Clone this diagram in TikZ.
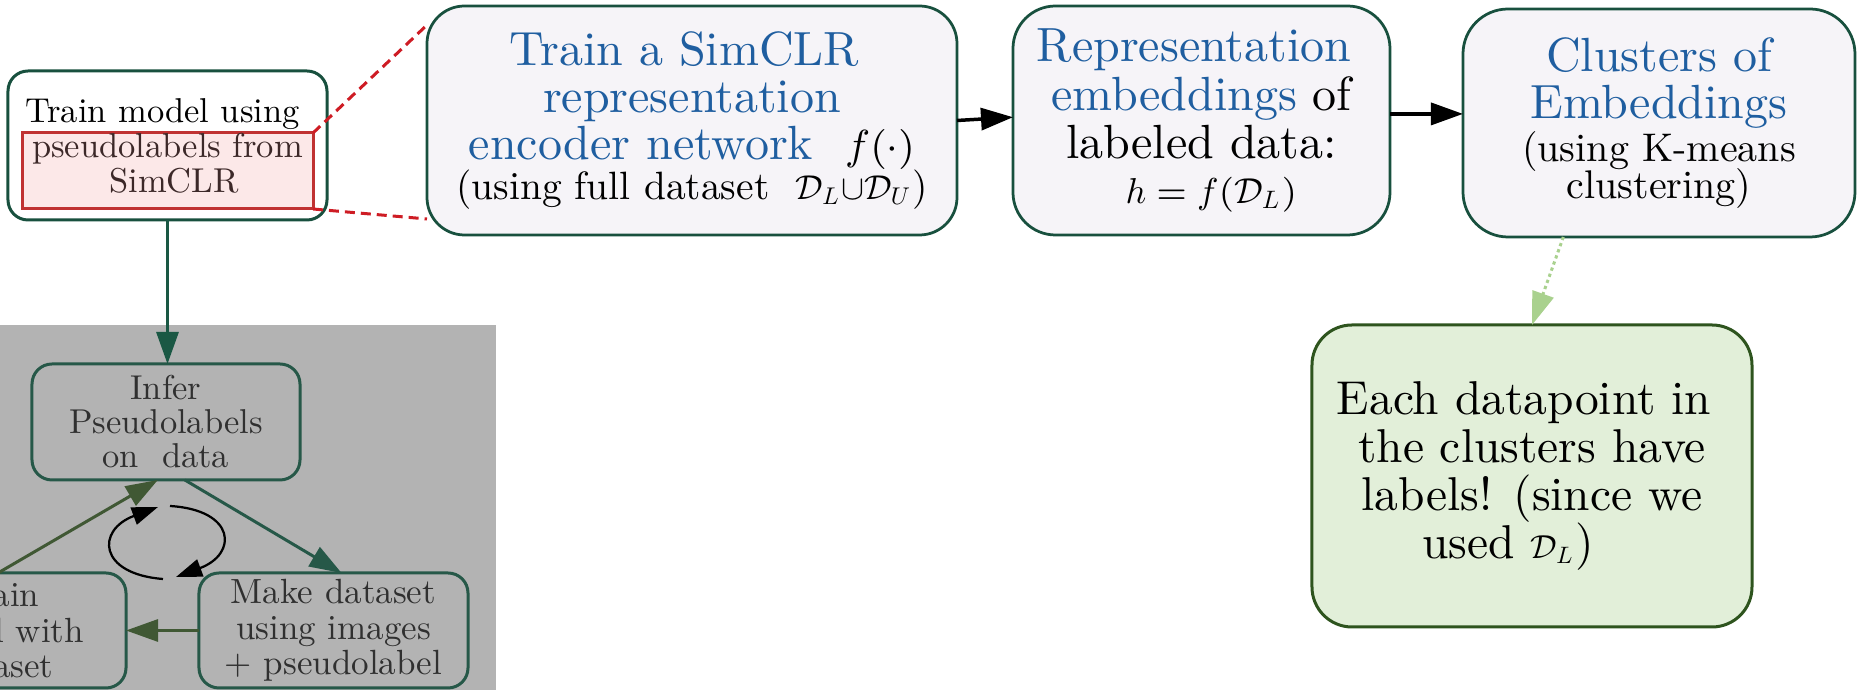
\documentclass[tikz,border=0pt]{standalone}
\usepackage{amsmath,amssymb}
\usepackage{fontspec}
% one design size of Latin Modern for every text size
\setmainfont{lmroman10-regular.otf}
\DeclareFontShape{OML}{cmm}{m}{it}{<->cmmi10}{}
\DeclareFontShape{OMS}{cmsy}{m}{n}{<->cmsy10}{}
\usetikzlibrary{arrows.meta,calc}

\definecolor{boxline}{RGB}{24,80,62}
\definecolor{boxfill}{RGB}{246,244,248}
\definecolor{titleblue}{RGB}{31,94,160}
\definecolor{panelgray}{RGB}{179,179,179}
\definecolor{panelline}{RGB}{38,88,72}
\definecolor{paneltext}{RGB}{48,48,48}
\definecolor{olive}{RGB}{64,88,52}
\definecolor{notefill}{RGB}{226,239,217}
\definecolor{noteline}{RGB}{46,84,30}
\definecolor{dotgreen}{RGB}{169,209,142}
\definecolor{zoomred}{RGB}{206,28,36}
\definecolor{hlline}{RGB}{192,50,50}
\definecolor{hlfill}{RGB}{252,232,232}
\definecolor{hltext}{RGB}{60,40,40}

% font size and baseline skip, with the baseline skip always honoured
\newcommand\setfs[2]{\fontsize{#1}{#2}\selectfont\lineskiplimit=-20pt\relax}

\tikzset{
  every node/.style={inner sep=0pt, outer sep=0pt, align=center},
  flowbox/.style={draw=boxline, fill=boxfill, line width=0.55pt, rectangle},
  panelbox/.style={draw=panelline, line width=0.6pt, rounded corners=4pt,
    text=paneltext, font={\setfs{7}{7.05}}},
  arrowhd/.style={-{Triangle[length=6.4pt,width=4.4pt]}},
  smallhd/.style={-{Triangle[length=5.2pt,width=3.6pt]}},
}

\begin{document}
\begin{tikzpicture}[x=0.2pt,y=-0.2pt]
\path[use as bounding box] (0,0) rectangle (1858,690);
\clip (0,0) rectangle (1858,690);

% grey panel with the pseudolabel loop
\fill[panelgray] (0,325) rectangle (496,690);

% highlighted part of the first box
\node[draw=hlline, fill=hlfill, line width=0.6pt,
      minimum width=58pt, minimum height=15.2pt] (hl) at (168,171) {};
\node[draw=boxline, line width=0.6pt, rounded corners=4pt,
      minimum width=63.8pt, minimum height=29.8pt, font={\setfs{6.9}{7}}]
  (trainm) at (167.5,145.5)
  {Train model using\hspace*{2pt}\\
   \textcolor{hltext}{pseudolabels from}\\
   \hspace*{2.6pt}\textcolor{hltext}{SimCLR}};

% main pipeline
\node[flowbox, rounded corners=7.5pt, minimum width=106pt, minimum height=45.8pt,
      font={\setfs{9.6}{9.4}}] (simclr) at (692,120.5)
  {\textcolor{titleblue}{Train a SimCLR}\hspace*{3pt}\\
   \textcolor{titleblue}{representation}\hspace*{3pt}\\
   \textcolor{titleblue}{encoder network}\ \ {\setfs{8.4}{8}$f(\cdot)$}\hspace*{5.2pt}\\[-1.4pt]
   {\setfs{7.9}{8}(using full dataset\ \ {\setfs{6.9}{8}$\mathcal{D}_L{\cup}\mathcal{D}_U$})}};

\node[flowbox, rounded corners=8.5pt, minimum width=75.4pt, minimum height=45.8pt,
      font={\setfs{9.6}{9.7}}] (rep) at (1201.5,120.5)
  {\textcolor{titleblue}{Representation}\hspace*{3pt}\\
   \textcolor{titleblue}{embeddings} of\hspace*{3pt}\\
   labeled data:\\[-0.7pt]
   {\setfs{7.2}{8}\hspace*{4pt}$h=f(\mathcal{D}_L)$}};

\node[flowbox, rounded corners=9pt, minimum width=78.4pt, minimum height=45.6pt,
      font={\setfs{9.6}{9.4}}] (clusters) at (1659,123)
  {\textcolor{titleblue}{Clusters of}\\
   \textcolor{titleblue}{Embeddings}\\[-0.8pt]
   {\setfs{8}{8}(using K-means}\\[-2pt]
   {\setfs{8}{8}clustering)}};

\node[draw=noteline, fill=notefill, line width=0.6pt, rounded corners=8pt,
      minimum width=88pt, minimum height=60.4pt, font={\setfs{9.5}{9.6}}]
  (note) at (1532,476)
  {Each datapoint in\hspace*{3.2pt}\\
   the clusters have\\
   labels! (since we\hspace*{3.2pt}\\
   used $\scriptstyle\mathcal{D}_L$)\hspace*{9.6pt}};

% loop boxes
\node[panelbox, minimum width=53.6pt, minimum height=23.2pt,
      font={\setfs{6.9}{6.8}}] (infer) at (166,422)
  {Infer\\ Pseudolabels\\ on\ \ data};
\node[panelbox, minimum width=53.8pt, minimum height=23pt] (make) at (333.5,630.5)
  {Make dataset\\ using images\\ + pseudolabel};
\node[panelbox, minimum width=51.2pt, minimum height=23pt] (trainb) at (-2,630.5)
  {Train\\ model with\\ dataset};

% zoom lines from the highlight to the SimCLR box
\draw[zoomred, line width=0.6pt, dash pattern=on 2pt off 1.2pt]
  (hl.north east) -- ($(simclr.north west)+(0,19)$);
\draw[zoomred, line width=0.6pt, dash pattern=on 2pt off 1.2pt]
  (hl.south east) -- ($(simclr.south west)+(0,-16)$);

% pipeline arrows
\draw[black, line width=0.7pt, arrowhd] (simclr.east) -- (rep.179);
\draw[black, line width=0.7pt, arrowhd] (rep.2) -- (rep.2 -| clusters.west);
\draw[dotgreen, line width=0.6pt, dash pattern=on 0.65pt off 0.65pt,
      -{Triangle[length=6.6pt,width=4.4pt]}] (clusters.-130) -- (note.north);

% into the loop
\draw[color={rgb,255:red,26;green,88;blue,68}, line width=0.6pt, arrowhd]
  (trainm.south) -- (trainm.south |- infer.north);

% loop arrows
\draw[panelline, line width=0.6pt, arrowhd] (infer.-72) -- (make.82);
\draw[olive, line width=0.6pt, arrowhd] (make.west) -- (trainb.east);
\draw[olive, line width=0.6pt, arrowhd] (trainb.north) -- (infer.-98);

% cycle symbol
\draw[black, line width=0.45pt, smallhd]
  (163,579) .. controls (98,574) and (96,530) .. (158,507);
\draw[black, line width=0.45pt, smallhd]
  (170,506) .. controls (236,510) and (238,554) .. (176,577);
\end{tikzpicture}
\end{document}
